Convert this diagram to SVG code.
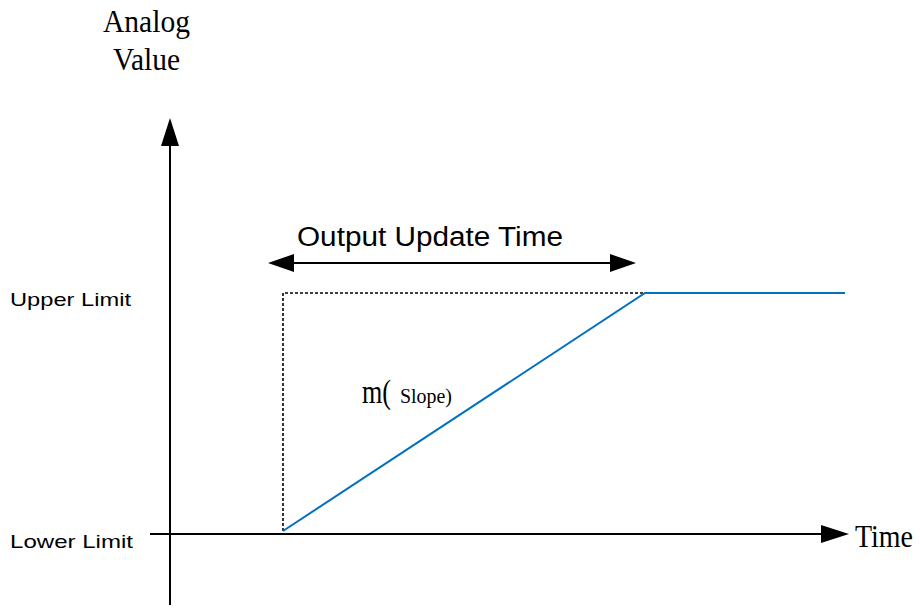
<svg xmlns="http://www.w3.org/2000/svg" width="920" height="610" viewBox="0 0 920 610">
<style>
.serif{font-family:"Liberation Serif","Times New Roman",serif;fill:#000}
.sans{font-family:"Liberation Sans",Arial,sans-serif;fill:#000}
.ax{stroke:#000;stroke-width:2;fill:none}
.dot{stroke:#000;stroke-width:1.6;stroke-dasharray:3,2;fill:none}
.blue{stroke:#0070C0;stroke-width:2;fill:none}
</style>
<rect width="920" height="610" fill="#fff"/>
<g id="axes">
<line class="ax" x1="170" y1="605" x2="170" y2="140"/>
<polygon points="170,118 161,146 179,146" fill="#000"/>
<line class="ax" x1="150" y1="534" x2="825" y2="534"/>
<polygon points="849,534 821,525 821,543" fill="#000"/>
</g>
<g id="connectors">
<path class="dot" d="M283,531 V293 H645"/>
<path class="blue" d="M283,531 L645,293 H845"/>
<line class="ax" x1="290" y1="263" x2="614" y2="263"/>
<polygon points="268,263 294,254 294,272" fill="#000"/>
<polygon points="636,263 610,254 610,272" fill="#000"/>
</g>
<g id="labels">
<text class="serif" x="103" y="32" font-size="31" textLength="87" lengthAdjust="spacingAndGlyphs">Analog</text>
<text class="serif" x="113" y="70" font-size="31" textLength="67" lengthAdjust="spacingAndGlyphs">Value</text>
<text class="sans" x="297" y="246" font-size="27" textLength="266" lengthAdjust="spacingAndGlyphs">Output Update Time</text>
<text class="sans" x="10" y="306" font-size="19" textLength="121" lengthAdjust="spacingAndGlyphs">Upper Limit</text>
<text class="sans" x="10" y="548" font-size="19" textLength="123" lengthAdjust="spacingAndGlyphs">Lower Limit</text>
<text class="serif" x="362" y="403" font-size="33" textLength="29" lengthAdjust="spacingAndGlyphs">m(</text>
<text class="serif" x="400" y="403" font-size="20" textLength="52" lengthAdjust="spacingAndGlyphs">Slope)</text>
<text class="serif" x="855" y="547" font-size="31" textLength="58" lengthAdjust="spacingAndGlyphs">Time</text>
</g>
</svg>
